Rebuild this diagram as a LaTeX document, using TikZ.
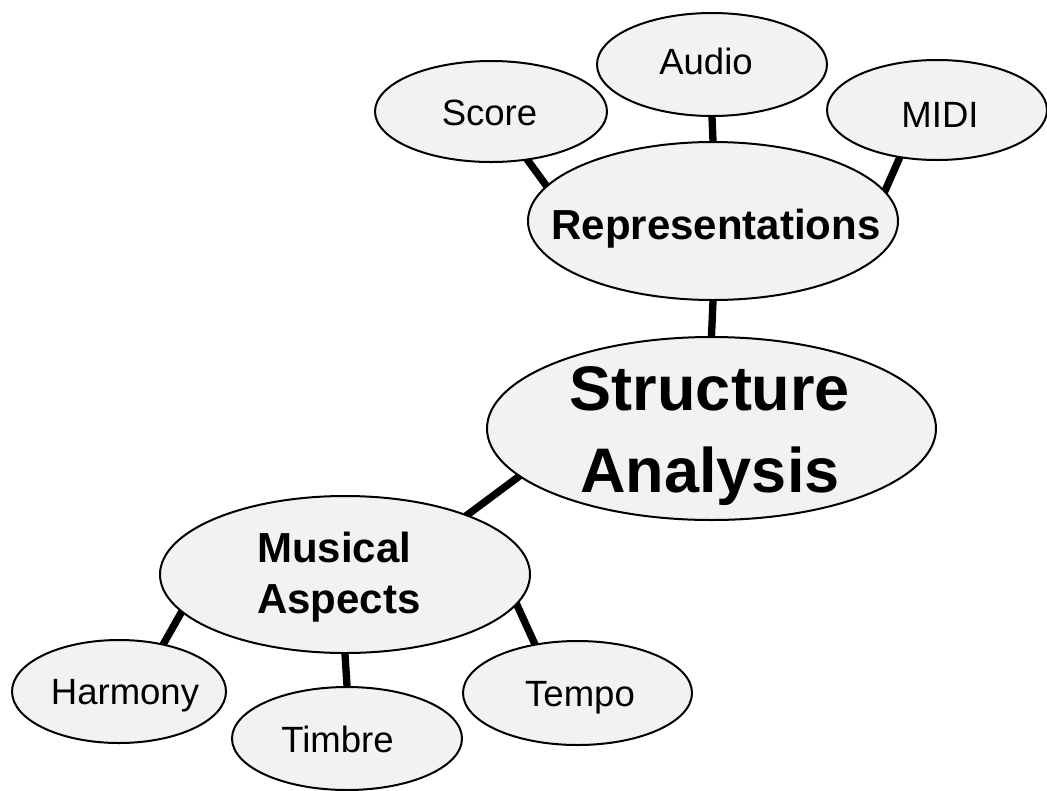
\documentclass[tikz,border=0pt]{standalone}
\usepackage{fontspec}
\setmainfont{Liberation Sans}
\usetikzlibrary{shapes.geometric,backgrounds}
\definecolor{bubfill}{RGB}{242,242,242}
\def\px{0.75pt}
\begin{document}
\begin{tikzpicture}[x=0.75pt,y=-0.75pt,
  bub/.style={ellipse, draw=black, line width=1.5pt, fill=bubfill, inner sep=0pt},
  link/.style={line width=5.5pt, shorten <=-4pt, shorten >=-4pt},
  lbl/.style={inner sep=0pt, anchor=base, font=\fontsize{27.4}{33}\selectfont},
  lblb/.style={inner sep=0pt, anchor=base, font=\fontsize{31.5}{38.25}\selectfont\bfseries},
  lblbig/.style={inner sep=0pt, anchor=base, align=center, font=\fontsize{47.25}{61.5}\selectfont\bfseries}]
\useasboundingbox (0,0) rectangle (1047,790);

% ellipses
\node[bub, minimum width=232*\px, minimum height=101*\px] (score) at (491,111.5) {};
\node[bub, minimum width=230*\px, minimum height=103*\px] (audio) at (712,64.5) {};
\node[bub, minimum width=220*\px, minimum height=100*\px] (midi) at (937,110) {};
\node[bub, minimum width=370*\px, minimum height=158*\px] (rep) at (713,221) {};
\node[bub, minimum width=449*\px, minimum height=183*\px] (sa) at (711.5,428.5) {};
\node[bub, minimum width=370*\px, minimum height=157*\px] (ma) at (345,574.5) {};
\node[bub, minimum width=214*\px, minimum height=103*\px] (harmony) at (119,691.5) {};
\node[bub, minimum width=230*\px, minimum height=103*\px] (timbre) at (347,738.5) {};
\node[bub, minimum width=229*\px, minimum height=104*\px] (tempo) at (577.5,693) {};

% labels (multi-line nodes: base = last line)
\node[lbl] (tscore) at (489.5,125) {Score};
\node[lbl] (taudio) at (706,74) {Audio};
\node[lbl] (tmidi) at (940,127) {MIDI};
\node[lblb] (trep) at (716,239) {Representations};
\node[lblbig] (tsa) at (710,492) {Structure\\Analysis};
\node[lblb, align=left, anchor=base west] (tma) at (257,613) {Musical\\Aspects};
\node[lbl] (tharm) at (125,704) {Harmony};
\node[lbl] (ttimb) at (337.5,752) {Timbre};
\node[lbl] (ttempo) at (580,706) {Tempo};

% connectors
\begin{scope}[on background layer]
\draw[link] (score.-53.4) -- (rep.168.9);
\draw[link] (audio.south) -- (rep.north);
\draw[link] (midi.-128.2) -- (rep.10.7);
\draw[link] (rep.south) -- (sa.north);
\draw[link] (sa.194.7) -- (ma.26.8);
\draw[link] (ma.193.3) -- (harmony.47.8);
\draw[link] (ma.south) -- (timbre.north);
\draw[link] (ma.-10.9) -- (tempo.131.7);
\end{scope}
\end{tikzpicture}
\end{document}
